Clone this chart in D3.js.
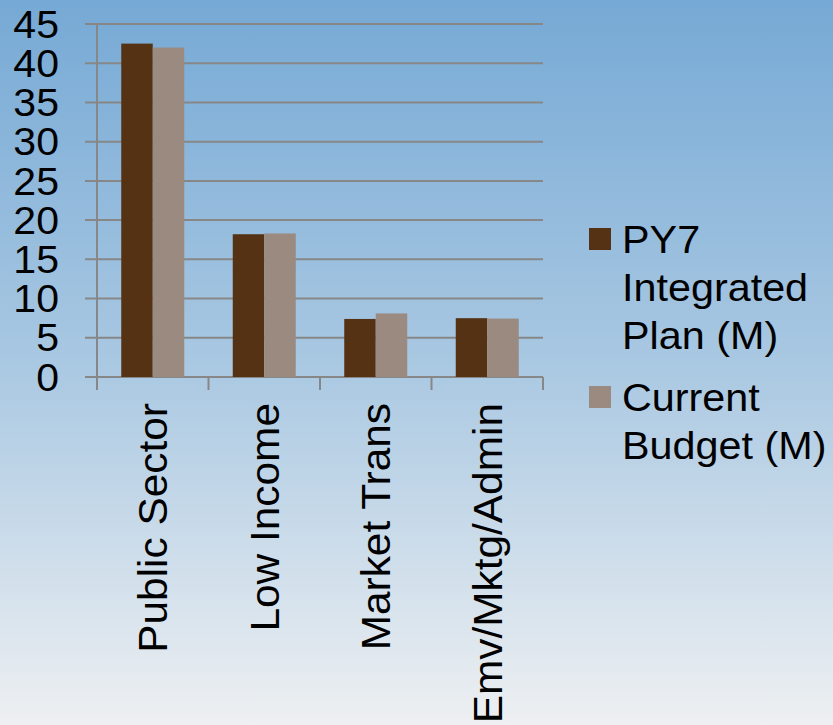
<!DOCTYPE html>
<html>
<head>
<meta charset="utf-8">
<script src="https://cdn.jsdelivr.net/npm/d3@7"></script>
<style>
  html, body { margin: 0; padding: 0; }
  svg { display: block; font-family: "Liberation Sans", Arial, sans-serif; }
</style>
</head>
<body>
<script>
// data
var categories = ["Public Sector", "Low Income", "Market Trans", "Emv/Mktg/Admin"];
var seriesNames = ["PY7 Integrated Plan (M)", "Current Budget (M)"];
var plan = [42.5, 18.2, 7.4, 7.5];
var budget = [42, 18.3, 8.1, 7.45];
var yTicks = [0, 5, 10, 15, 20, 25, 30, 35, 40, 45];
var colors = ["#553214", "#9a8a80"];

var W = 833, H = 725;
var pLeft = 97, pRight = 543, pTop = 24, pBottom = 377;
var sx = 1.06; // text looks a bit wide in the source

var svg = d3.select("body").append("svg").attr("width", W).attr("height", H);

var grad = svg.append("defs").append("linearGradient")
  .attr("id", "bg").attr("x1", 0).attr("y1", 0).attr("x2", 0).attr("y2", 1);
grad.append("stop").attr("offset", "0%").attr("stop-color", "#76a9d5");
grad.append("stop").attr("offset", "50%").attr("stop-color", "#a9c8e2");
grad.append("stop").attr("offset", "100%").attr("stop-color", "#eef0f2");
svg.append("rect").attr("width", W).attr("height", H).attr("fill", "url(#bg)");

var x = d3.scaleBand().domain(categories).range([pLeft, pRight]);
var x1 = d3.scaleBand().domain([0, 1]).range([0, x.bandwidth()]).paddingOuter(0.77);
var y = d3.scaleLinear().domain([0, 45]).range([pBottom, pTop]);

// gridlines
svg.selectAll("line.grid").data(yTicks).enter().append("line")
  .attr("x1", pLeft - 12).attr("x2", pRight)
  .attr("y1", function(d){ return y(d); }).attr("y2", function(d){ return y(d); })
  .attr("stroke", "#878787").attr("stroke-width", 2);

// y axis line
svg.append("line").attr("x1", pLeft).attr("x2", pLeft).attr("y1", pTop).attr("y2", pBottom + 13)
  .attr("stroke", "#878787").attr("stroke-width", 2);

// x ticks
var xt = categories.map(function(c){ return x(c); }).concat([pRight]);
svg.selectAll("line.xt").data(xt).enter().append("line")
  .attr("x1", function(d){ return d; }).attr("x2", function(d){ return d; })
  .attr("y1", pBottom).attr("y2", pBottom + 13)
  .attr("stroke", "#878787").attr("stroke-width", 2);

// y labels
svg.selectAll("text.yl").data(yTicks).enter().append("text")
  .attr("transform", function(d){ return "translate(59," + y(d) + ") scale(1.08,1)"; })
  .attr("dy", "0.36em")
  .attr("text-anchor", "end").attr("font-size", 38).attr("fill", "#000")
  .text(function(d){ return d; });

// bars
[plan, budget].forEach(function(vals, s) {
  svg.selectAll("rect.s" + s).data(vals).enter().append("rect")
    .attr("x", function(d, i){ return x(categories[i]) + x1(s); })
    .attr("width", x1.bandwidth())
    .attr("y", function(d){ return y(d); })
    .attr("height", function(d){ return pBottom - y(d); })
    .attr("fill", colors[s]);
});

// category labels
svg.selectAll("text.cl").data(categories).enter().append("text")
  .attr("transform", function(d){
    return "translate(" + (x(d) + x.bandwidth() / 2) + ",403) rotate(-90) scale(" + sx + ",1)";
  })
  .attr("dy", "0.36em").attr("text-anchor", "end").attr("font-size", 40).attr("fill", "#000")
  .text(function(d){ return d; });

// legend
var legendLines = [["PY7", "Integrated", "Plan (M)"], ["Current", "Budget (M)"]];
var legendY = [228, 386];
legendLines.forEach(function(lines, s) {
  svg.append("rect").attr("x", 589).attr("y", legendY[s]).attr("width", 22).attr("height", 22)
    .attr("fill", colors[s]);
  svg.selectAll("text.lg" + s).data(lines).enter().append("text")
    .attr("transform", function(d, i){
      return "translate(622," + (legendY[s] + 25 + i * 48) + ") scale(" + sx + ",1)";
    })
    .attr("font-size", 39).attr("fill", "#000")
    .text(function(d){ return d; });
});
</script>
</body>
</html>
